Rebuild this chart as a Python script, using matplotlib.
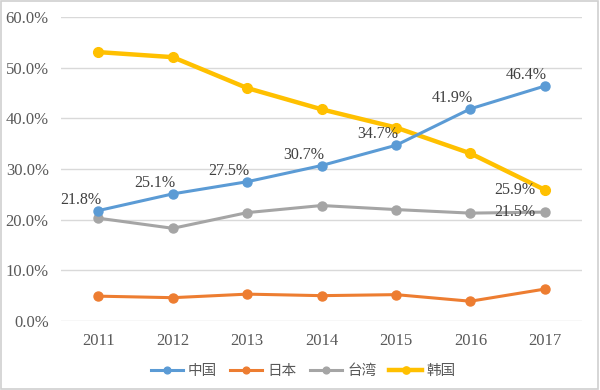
import matplotlib.pyplot as plt
import numpy as np
from matplotlib.patches import Rectangle

# data
years = ['2011', '2012', '2013', '2014', '2015', '2016', '2017']
china = [21.8, 25.1, 27.5, 30.7, 34.7, 41.9, 46.4]
japan = [4.9, 4.6, 5.3, 5.0, 5.2, 3.9, 6.3]
taiwan = [20.3, 18.3, 21.4, 22.8, 22.0, 21.3, 21.5]
korea = [53.1, 52.1, 46.0, 41.8, 38.2, 33.1, 25.9]
names = ['中国', '日本', '台湾', '韩国']

fig = plt.figure(figsize=(6, 3.9), dpi=100)
ax = fig.add_axes([0.102, 0.177, 0.868, 0.779])
fig.patches.append(Rectangle((0.002, 0.003), 0.995, 0.994, transform=fig.transFigure,
                             fill=False, edgecolor='#d0d0d0', linewidth=1.2))

x = np.arange(len(years))
ax.plot(x, china, color='#5B9BD5', lw=2.2, marker='o', ms=6.5, label=names[0], zorder=4)
ax.plot(x, japan, color='#ED7D31', lw=2.2, marker='o', ms=6.5, label=names[1], zorder=3)
ax.plot(x, taiwan, color='#A5A5A5', lw=2.2, marker='o', ms=6.5, label=names[2], zorder=3)
ax.plot(x, korea, color='#FFC000', lw=3.2, marker='o', ms=7, label=names[3], zorder=3)

serif = 'Liberation Serif'
for i, v in enumerate(china):
    ax.annotate(f'{v}%', (x[i], v), xytext=(-13, 2), textcoords='offset points',
                ha='center', va='bottom', fontsize=11.5, family=serif, color='#404040')
for s in (korea, taiwan):
    ax.annotate(f'{s[-1]}%', (x[-1], s[-1]), xytext=(-7, 0), textcoords='offset points',
                ha='right', va='center', fontsize=11.5, family=serif, color='#404040')

ax.set_xlim(-0.5, len(years) - 0.5)
ax.set_ylim(0, 60)
ax.set_yticks(np.arange(0, 61, 10))
ax.set_yticklabels([f'{t:.1f}%' for t in np.arange(0, 61, 10)])
ax.set_xticks(x)
ax.set_xticklabels(years)
for lab in ax.get_xticklabels() + ax.get_yticklabels():
    lab.set_family(serif)
    lab.set_fontsize(12)
    lab.set_color('#595959')
ax.tick_params(length=0, pad=9)
ax.tick_params(axis='y', pad=9)
ax.grid(axis='y', color='#d9d9d9', lw=1)
ax.set_axisbelow(True)
for sp in ax.spines.values():
    sp.set_visible(False)

leg = ax.legend(loc='center', bbox_to_anchor=(0.465, -0.165), ncol=4, frameon=False,
                prop={'family': ['Noto Sans CJK SC', 'DejaVu Sans'], 'size': 10.5},
                handlelength=2.2, columnspacing=0.9, handletextpad=0.35, markerscale=0.75)
for t in leg.get_texts():
    t.set_color('#595959')

fig.savefig('out.png', dpi=100)
